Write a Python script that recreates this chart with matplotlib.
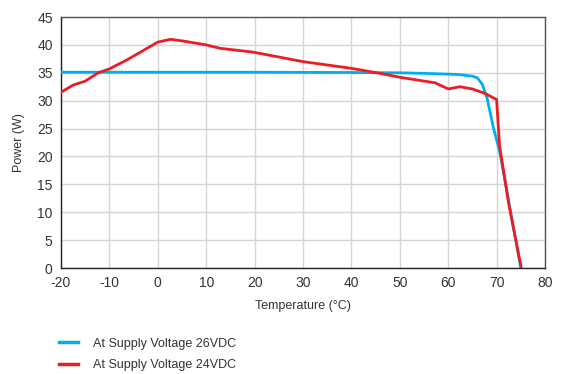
import matplotlib
matplotlib.use('Agg')
from matplotlib import pyplot as plt
from matplotlib.lines import Line2D
import numpy as np

plt.rcParams['font.family'] = ['Liberation Sans', 'DejaVu Sans']
plt.rcParams['axes.unicode_minus'] = False

# readings from the reference
temp_26 = [-20, 0, 20, 40, 50, 55, 62, 65, 66, 67, 68, 69.3, 70.7, 72.5, 75]
power_26 = [35.1, 35.1, 35.1, 35.05, 35.0, 34.9, 34.7, 34.4, 34.1, 33.0, 30.6, 25.3, 20.6, 12.0, 0]

temp_24 = [-20, -17.5, -15, -12.3, -10, -6.4, -3, 0, 2.6, 5.2, 10, 12.8, 19.7, 25.2,
           30, 40, 45.9, 50, 57.3, 60, 62.4, 65, 67.6, 70, 70.6, 72.5, 75.1]
power_24 = [31.5, 32.8, 33.5, 35.0, 35.7, 37.3, 39.0, 40.5, 41.0, 40.7, 40.0, 39.4, 38.7, 37.8,
            37.0, 35.8, 34.9, 34.2, 33.2, 32.1, 32.5, 32.1, 31.3, 30.2, 22.0, 11.5, 0]

labels = ['At Supply Voltage 26VDC', 'At Supply Voltage 24VDC']
colors = ['#00AEEF', '#ED1C24']

fig = plt.figure(figsize=(5.61, 3.74), dpi=100)
ax = fig.add_axes([0.1087, 0.2834, 0.8628, 0.6711])

ax.plot(temp_26, power_26, color=colors[0], lw=2.0, zorder=3)
ax.plot(temp_24, power_24, color=colors[1], lw=2.0, zorder=4)

ax.set_xlim(-20, 80)
ax.set_ylim(0, 45)
ax.set_xticks(np.arange(-20, 81, 10))
ax.set_yticks(np.arange(0, 46, 5))
ax.grid(True, color='#d4d4d4', lw=1.0)
ax.set_axisbelow(True)
for s in ax.spines.values():
    s.set_color('#555555')
    s.set_linewidth(1.0)
ax.spines['bottom'].set_color('#222222')
ax.spines['left'].set_color('#222222')
ax.tick_params(length=0, labelsize=10, colors='#333333', pad=6)

ax.set_xlabel('Temperature (°C)', fontsize=9, color='#333333', labelpad=7)
ax.set_ylabel('Power (W)', fontsize=9, color='#333333', labelpad=9)

handles = [Line2D([], [], color=c, lw=2.5) for c in colors]
fig.legend(handles, labels, loc='upper left', bbox_to_anchor=(0.085, 0.127),
           frameon=False, fontsize=9, handlelength=1.5, handletextpad=1.2,
           labelspacing=0.75, labelcolor='#333333')

fig.savefig('out.png', dpi=100)
